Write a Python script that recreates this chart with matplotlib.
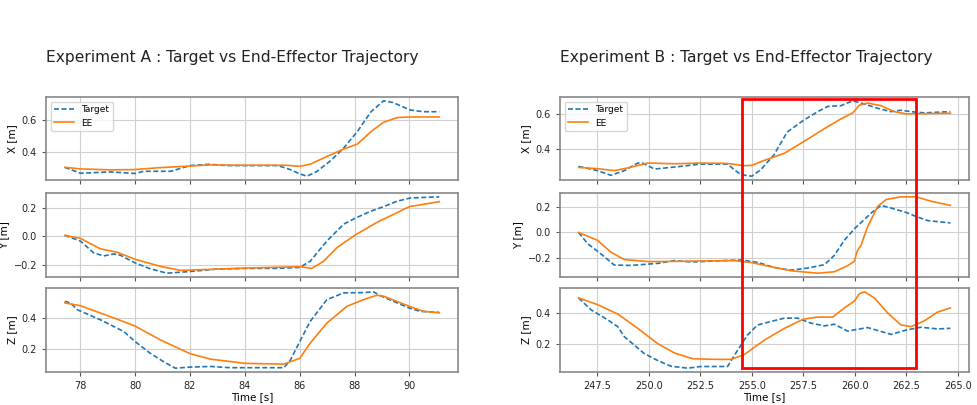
import matplotlib
matplotlib.use("Agg")
import matplotlib.pyplot as plt
from matplotlib.patches import Rectangle
from matplotlib.transforms import blended_transform_factory

# ---- Experiment A ----
a_x_tgt_t = [77.43, 78.0, 79.1, 80.0, 80.3, 81.3, 82.0, 82.7, 83.3, 85.2, 85.65, 86.0, 86.26,
             86.6, 87.1, 87.6, 88.1, 88.6, 89.06, 89.4, 90.03, 90.5, 91.09]
a_x_tgt = [0.304, 0.267, 0.275, 0.265, 0.279, 0.279, 0.315, 0.323, 0.315, 0.315, 0.29, 0.263, 0.248,
           0.275, 0.342, 0.425, 0.529, 0.654, 0.723, 0.712, 0.665, 0.654, 0.654]
a_x_ee_t = [77.43, 78.0, 79.1, 80.0, 80.9, 82.0, 82.7, 84.0, 85.5, 86.02, 86.4, 87.0, 87.6,
            88.1, 88.6, 89.06, 89.55, 90.03, 91.09]
a_x_ee = [0.304, 0.294, 0.288, 0.29, 0.302, 0.312, 0.319, 0.317, 0.317, 0.31, 0.325, 0.373, 0.419,
          0.45, 0.529, 0.5875, 0.617, 0.621, 0.621]

a_y_tgt_t = [77.43, 78.0, 78.49, 78.85, 79.22, 79.46, 80.0, 80.55, 81.16, 82.0, 82.98, 84.0, 85.18,
             86.0, 86.38, 86.99, 87.6, 88.0, 88.57, 89.06, 89.55, 90.03, 91.09]
a_y_tgt = [0.007, -0.033, -0.117, -0.138, -0.124, -0.133, -0.188, -0.229, -0.26, -0.248, -0.231,
           -0.226, -0.226, -0.219, -0.176, -0.033, 0.086, 0.126, 0.176, 0.21, 0.248, 0.271, 0.279]
a_y_ee_t = [77.43, 78.0, 78.73, 79.34, 80.0, 80.92, 81.65, 82.74, 84.0, 86.0, 86.44, 86.87, 87.35,
            88.0, 88.81, 90.0, 91.09]
a_y_ee = [0.007, -0.014, -0.088, -0.112, -0.162, -0.212, -0.24, -0.233, -0.224, -0.214, -0.226,
          -0.176, -0.081, 0.007, 0.098, 0.21, 0.245]

a_z_tgt_t = [77.43, 77.64, 77.88, 78.73, 79.58, 80.0, 80.55, 81.04, 81.46, 82.0, 82.74, 83.47,
             85.42, 85.66, 86.0, 86.38, 86.99, 87.6, 88.33, 88.69, 88.93, 89.42, 90.0, 90.39, 91.09]
a_z_tgt = [0.505, 0.495, 0.452, 0.387, 0.312, 0.247, 0.172, 0.118, 0.077, 0.084, 0.088, 0.08,
           0.08, 0.129, 0.247, 0.376, 0.516, 0.559, 0.561, 0.566, 0.542, 0.505, 0.462, 0.441, 0.434]
a_z_ee_t = [77.43, 78.0, 79.34, 80.0, 80.92, 82.0, 82.74, 84.0, 85.42, 86.0, 86.38, 86.99, 87.72,
            88.33, 88.81, 89.06, 90.0, 90.51, 91.09]
a_z_ee = [0.495, 0.477, 0.391, 0.346, 0.258, 0.17, 0.135, 0.108, 0.103, 0.14, 0.237, 0.366, 0.473,
          0.516, 0.544, 0.538, 0.473, 0.441, 0.432]

# ---- Experiment B ----
b_x_tgt_t = [246.59, 247.5, 248.16, 248.81, 249.46, 249.7, 250.27, 251.24, 252.05, 252.53, 253.82,
             254.15, 254.47, 255.0, 255.43, 256.07, 256.72, 257.5, 258.2, 258.69, 259.33, 259.9,
             260.47, 261.11, 261.76, 262.24, 262.73, 263.37, 264.64]
b_x_tgt = [0.301, 0.277, 0.25, 0.277, 0.32, 0.32, 0.286, 0.297, 0.308, 0.314, 0.314, 0.282, 0.254,
           0.245, 0.282, 0.366, 0.497, 0.563, 0.613, 0.643, 0.647, 0.675, 0.656, 0.632, 0.613,
           0.621, 0.613, 0.606, 0.613]
b_x_ee_t = [246.59, 247.5, 248.32, 248.97, 249.94, 251.24, 252.53, 253.82, 254.63, 255.0, 255.6,
            256.58, 257.5, 258.52, 259.33, 259.9, 260.22, 260.62, 261.27, 261.92, 262.5, 264.64]
b_x_ee = [0.295, 0.288, 0.277, 0.292, 0.32, 0.316, 0.32, 0.318, 0.305, 0.307, 0.335, 0.376, 0.441,
          0.516, 0.572, 0.606, 0.65, 0.662, 0.647, 0.613, 0.6, 0.604]

b_y_tgt_t = [246.59, 247.03, 247.67, 248.32, 249.13, 250.42, 251.24, 252.05, 253.66, 254.47,
             255.28, 256.09, 256.9, 257.71, 258.52, 259.0, 259.49, 260.0, 260.79, 261.27, 261.76,
             262.5, 262.98, 263.55, 264.64]
b_y_tgt = [0.0, -0.088, -0.168, -0.256, -0.259, -0.243, -0.221, -0.232, -0.221, -0.216, -0.235,
           -0.275, -0.296, -0.28, -0.253, -0.181, -0.061, 0.032, 0.152, 0.213, 0.192, 0.157, 0.125,
           0.093, 0.075]
b_y_ee_t = [246.59, 247.5, 248.16, 248.81, 250.0, 251.24, 252.53, 254.15, 255.0, 255.93, 256.9,
            258.2, 259.0, 259.65, 259.97, 260.13, 260.3, 260.62, 261.11, 261.52, 262.24, 262.98,
            263.71, 264.64]
b_y_ee = [0.0, -0.061, -0.155, -0.213, -0.229, -0.227, -0.224, -0.221, -0.237, -0.269, -0.301,
          -0.32, -0.309, -0.261, -0.227, -0.141, -0.101, 0.045, 0.205, 0.259, 0.28, 0.28, 0.245,
          0.213]

b_z_tgt_t = [246.59, 247.19, 248.0, 248.49, 248.81, 249.78, 250.42, 251.07, 251.88, 252.53,
             253.82, 254.31, 254.79, 255.28, 255.93, 256.58, 257.22, 257.87, 258.52, 259.0,
             259.65, 260.62, 261.76, 262.5, 263.2, 264.02, 264.64]
b_z_tgt = [0.502, 0.424, 0.358, 0.313, 0.247, 0.136, 0.091, 0.053, 0.04, 0.051, 0.051, 0.158,
           0.258, 0.324, 0.347, 0.369, 0.369, 0.336, 0.318, 0.329, 0.284, 0.307, 0.262, 0.291,
           0.309, 0.298, 0.302]
b_z_ee_t = [246.59, 247.5, 248.49, 249.46, 250.42, 251.24, 252.13, 253.18, 253.99, 254.63,
            255.6, 256.58, 257.5, 258.2, 258.93, 259.49, 259.97, 260.22, 260.47, 260.95, 261.6,
            262.24, 262.73, 263.37, 264.02, 264.64]
b_z_ee = [0.502, 0.458, 0.396, 0.302, 0.202, 0.14, 0.102, 0.098, 0.098, 0.129, 0.224, 0.302,
          0.362, 0.376, 0.376, 0.436, 0.48, 0.529, 0.542, 0.502, 0.402, 0.324, 0.313, 0.351,
          0.409, 0.436]

highlight_window = [254.52, 262.97]

titles = ["Experiment A : Target vs End-Effector Trajectory",
          "Experiment B : Target vs End-Effector Trajectory"]
axis_labels = ["X [m]", "Y [m]", "Z [m]"]

experiments = [
    [(a_x_tgt_t, a_x_tgt, a_x_ee_t, a_x_ee),
     (a_y_tgt_t, a_y_tgt, a_y_ee_t, a_y_ee),
     (a_z_tgt_t, a_z_tgt, a_z_ee_t, a_z_ee)],
    [(b_x_tgt_t, b_x_tgt, b_x_ee_t, b_x_ee),
     (b_y_tgt_t, b_y_tgt, b_y_ee_t, b_y_ee),
     (b_z_tgt_t, b_z_tgt, b_z_ee_t, b_z_ee)],
]

fig = plt.figure(figsize=(9.77, 4.05), dpi=100)

lefts = [0.0471, 0.5732]
widths = [0.4217, 0.4186]
bottoms = [0.5556, 0.3160, 0.0815]
heights = [0.2049, 0.2074, 0.2074]

all_axes = []
for col, exp in enumerate(experiments):
    col_axes = []
    for row, (tt, tv, et, ev) in enumerate(exp):
        share = col_axes[0] if col_axes else None
        ax = fig.add_axes([lefts[col], bottoms[row], widths[col], heights[row]], sharex=share)
        ax.plot(tt, tv, '--', color='#1f77b4', lw=1.2, label='Target', dashes=(3, 1.5))
        ax.plot(et, ev, '-', color='#ff7f0e', lw=1.2, label='EE')
        ax.set_ylabel(axis_labels[row], fontsize=7.5, labelpad=3)
        ax.grid(True, color='#d0d0d0', lw=0.8)
        ax.tick_params(labelsize=7, length=3, color='#555555', labelcolor='#222222')
        for s in ax.spines.values():
            s.set_color('#888888')
            s.set_linewidth(1.2)
        if row < 2:
            ax.tick_params(labelbottom=False)
        else:
            ax.set_xlabel('Time [s]', fontsize=7.5, labelpad=1)
        if row == 0:
            ax.legend(loc='upper left', fontsize=6.5, handlelength=2.2, borderpad=0.4)
        col_axes.append(ax)
    all_axes.append(col_axes)
    fig.text(lefts[col], 0.859, titles[col], fontsize=11.2, ha='left', va='center',
             color='#222222')

# red highlight box across all three subplots of experiment B
trans = blended_transform_factory(all_axes[1][2].transData, fig.transFigure)
rect = Rectangle((highlight_window[0], 0.0914), highlight_window[1] - highlight_window[0],
                 0.7556 - 0.0914, transform=trans, fill=False, edgecolor='red', lw=2,
                 clip_on=False, zorder=10)
fig.patches.append(rect)

fig.savefig('out.png', dpi=100)
